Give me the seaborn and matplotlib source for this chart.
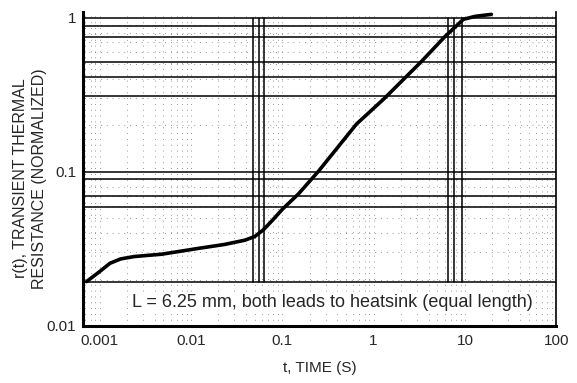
import matplotlib
matplotlib.use("Agg")
import matplotlib.pyplot as plt
import seaborn as sns
import numpy as np
import pandas as pd

# curve
time_s = [0.00072, 0.001, 0.0013, 0.0017, 0.0024, 0.0048, 0.0123, 0.0235, 0.039,
          0.05, 0.062, 0.077, 0.1, 0.151, 0.25, 0.65, 1.32, 3.35, 6.0, 8.5, 9.6,
          13.0, 19.5]
r_t = [0.0194, 0.0225, 0.0255, 0.0272, 0.0282, 0.0292, 0.0319, 0.0338, 0.036,
       0.038, 0.042, 0.048, 0.057, 0.072, 0.101, 0.204, 0.30, 0.52, 0.75, 0.91,
       0.975, 1.02, 1.05]

# heavy grid lines of the original chart
h_lines = [1.0, 0.887, 0.753, 0.518, 0.41, 0.31, 0.099, 0.090, 0.0698, 0.059, 0.0194]
v_lines = [0.048, 0.056, 0.063, 6.6, 7.6, 9.3]

x_ticks = [0.001, 0.01, 0.1, 1, 10, 100]
x_tick_labels = ["0.001", "0.01", "0.1", "1", "10", "100"]
y_ticks = [0.01, 0.1, 1]
y_tick_labels = ["0.01", "0.1", "1"]

note = "L = 6.25 mm, both leads to heatsink (equal length)"

df = pd.DataFrame({"t": time_s, "r": r_t})

sns.set_style("white")
plt.rcParams["font.family"] = ["Liberation Sans", "DejaVu Sans"]

fig = plt.figure(figsize=(5.77, 3.83), dpi=100)
ax = fig.add_axes([0.144, 0.149, 0.82, 0.82])

ax.set_xscale("log")
ax.set_yscale("log")
ax.set_xlim(0.00066, 100)
ax.set_ylim(0.01, 1.09)

# sparse dotted grid like the scan
ax.grid(True, which="minor", linestyle=(0, (1, 6)), color="#777777", linewidth=0.6)
ax.grid(True, which="major", axis="x", linestyle=(0, (1, 6)), color="#777777", linewidth=0.6)

for yv in h_lines:
    ax.axhline(yv, color="black", linewidth=1.1, zorder=1)
lo = (np.log10(0.0194) - np.log10(0.01)) / (np.log10(1.09) - np.log10(0.01))
for xv in v_lines:
    ax.axvline(xv, color="black", linewidth=1.1, ymin=lo, ymax=0.98, zorder=1)

sns.lineplot(data=df, x="t", y="r", ax=ax, color="black", linewidth=2.6,
             zorder=3, clip_on=False)

ax.text(0.35, 0.0141, note, ha="center", va="center", fontsize=13, zorder=4,
        bbox=dict(facecolor="white", edgecolor="none", pad=1))

ax.set_xticks(x_ticks)
ax.set_xticklabels(x_tick_labels)
ax.set_yticks(y_ticks)
ax.set_yticklabels(y_tick_labels)
ax.tick_params(axis="both", which="both", length=0, labelsize=11)
ax.tick_params(axis="x", pad=6)
ax.tick_params(axis="y", pad=5)

ax.set_xlabel("t, TIME (S)", fontsize=11, labelpad=9)
ax.set_ylabel("r(t), TRANSIENT THERMAL\nRESISTANCE (NORMALIZED)", fontsize=11.5,
              linespacing=1.35)
ax.yaxis.set_label_coords(-0.076, 0.47)

for side in ["left", "bottom"]:
    ax.spines[side].set_linewidth(2.2)
    ax.spines[side].set_color("black")
ax.spines["right"].set_linewidth(1.2)
ax.spines["right"].set_color("black")
ax.spines["top"].set_visible(False)

fig.savefig("out.png", dpi=100)
